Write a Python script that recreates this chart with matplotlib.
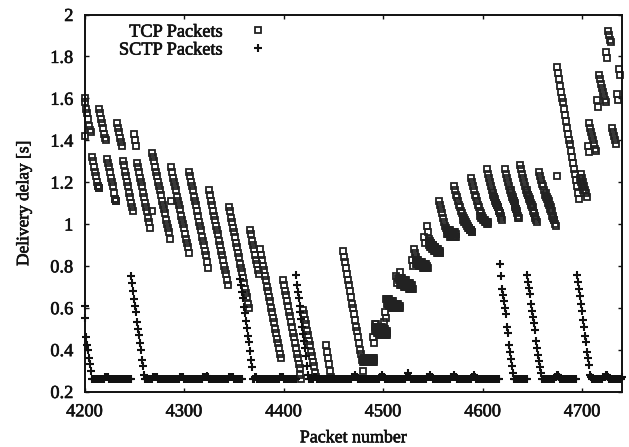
import numpy as np
import matplotlib
matplotlib.use('Agg')
import matplotlib.pyplot as plt
import matplotlib.patheffects as pe

plt.rcParams['font.family'] = ['Liberation Serif', 'DejaVu Serif']

# TCP packets: first packet number of each burst and its delays
tcp_start = [4200, 4200, 4208, 4215, 4223, 4233, 4239, 4250, 4253, 4268, 4268, 4287, 4287,
             4305, 4325, 4345, 4366, 4376, 4399, 4420, 4443, 4460, 4480, 4490, 4492, 4501,
             4503, 4513, 4529, 4541, 4544, 4556, 4571, 4588, 4604, 4622, 4638, 4657, 4675,
             4675, 4699, 4707, 4706, 4715, 4717, 4724, 4726, 4730, 4735, 4737]
tcp_delay = [
    [1.42],
    [1.60, 1.58, 1.55, 1.53, 1.50, 1.47, 1.45, 1.44],
    [1.32, 1.30, 1.27, 1.25, 1.23, 1.20, 1.18, 1.17],
    [1.55, 1.53, 1.50, 1.48, 1.46, 1.43, 1.41, 1.40],
    [1.31, 1.29, 1.27, 1.25, 1.22, 1.20, 1.18, 1.15, 1.12, 1.11],
    [1.48, 1.46, 1.44, 1.41, 1.39, 1.37],
    [1.30, 1.28, 1.25, 1.23, 1.20, 1.18, 1.15, 1.13, 1.10, 1.08, 1.06],
    [1.43, 1.40, 1.37],
    [1.29, 1.27, 1.25, 1.22, 1.20, 1.18, 1.15, 1.13, 1.10, 1.08, 1.06, 1.03, 1.01, 0.98],
    [1.06],
    [1.34, 1.32, 1.30, 1.27, 1.25, 1.23, 1.20, 1.18, 1.16, 1.14, 1.11, 1.09, 1.07, 1.05, 1.02, 1.00, 0.98, 0.96, 0.93],
    [1.11],
    [1.27, 1.25, 1.22, 1.20, 1.18, 1.16, 1.13, 1.11, 1.09, 1.07, 1.04, 1.02, 1.00, 0.98, 0.95, 0.93, 0.91, 0.89, 0.86],
    [1.25, 1.23, 1.20, 1.18, 1.16, 1.13, 1.11, 1.09, 1.06, 1.04, 1.01, 0.99, 0.97, 0.94, 0.92, 0.90, 0.87, 0.85, 0.82, 0.79],
    [1.16, 1.14, 1.11, 1.09, 1.06, 1.04, 1.02, 0.99, 0.97, 0.95, 0.92, 0.90, 0.87, 0.85, 0.83, 0.80, 0.78, 0.76, 0.73, 0.71],
    [1.08, 1.06, 1.03, 1.01, 0.98, 0.96, 0.94, 0.91, 0.89, 0.86, 0.84, 0.81, 0.79, 0.77, 0.74, 0.72, 0.69, 0.67, 0.65, 0.62, 0.60],
    [0.97, 0.95, 0.92, 0.90, 0.88, 0.85, 0.83, 0.81, 0.78, 0.76],
    [0.88, 0.85, 0.83, 0.80, 0.78, 0.75, 0.73, 0.70, 0.68, 0.65, 0.63, 0.60, 0.58, 0.55, 0.53, 0.50, 0.48, 0.45, 0.43, 0.41, 0.38, 0.36],
    [0.73, 0.71, 0.68, 0.66, 0.63, 0.61, 0.58, 0.56, 0.53, 0.51, 0.48, 0.46, 0.43, 0.41, 0.38, 0.36, 0.33, 0.31, 0.28, 0.26],
    [0.59, 0.57, 0.54, 0.52, 0.49, 0.47, 0.44, 0.42, 0.39, 0.37, 0.34, 0.32, 0.29, 0.27],
    [0.42, 0.39, 0.36, 0.33, 0.30, 0.27],
    [0.87, 0.84, 0.82, 0.79, 0.76, 0.73, 0.71, 0.68, 0.65, 0.62, 0.60, 0.57, 0.54, 0.51, 0.49, 0.46, 0.43, 0.40, 0.38, 0.35, 0.30],
    [0.35, 0.35, 0.35, 0.35, 0.35, 0.34, 0.35, 0.35, 0.35, 0.35, 0.35, 0.35],
    [0.46, 0.43],
    [0.51, 0.51, 0.50, 0.50, 0.49, 0.49, 0.50, 0.50, 0.49, 0.48, 0.48, 0.48, 0.48],
    [0.53, 0.58, 0.55],
    [0.64, 0.64, 0.63, 0.63, 0.62, 0.62, 0.62, 0.62, 0.61, 0.61, 0.61, 0.60, 0.60, 0.60],
    [0.75, 0.72, 0.74, 0.73, 0.77, 0.73, 0.72, 0.72, 0.71, 0.71, 0.71, 0.70, 0.70, 0.70, 0.70, 0.70, 0.69, 0.69],
    [0.83, 0.80, 0.88, 0.86, 0.84, 0.83, 0.82, 0.82, 0.81, 0.81, 0.80, 0.80, 0.80, 0.79, 0.79, 0.79, 0.79],
    [0.94, 0.91],
    [0.99, 0.96, 0.93, 0.92, 0.91, 0.90, 0.90, 0.89, 0.89, 0.88, 0.88, 0.87, 0.87, 0.86],
    [1.11, 1.09, 1.07, 1.05, 1.03, 1.01, 0.99, 0.98, 0.97, 0.96, 0.96, 0.95, 0.95, 0.95, 0.95, 0.94, 0.94],
    [1.18, 1.16, 1.14, 1.13, 1.11, 1.09, 1.08, 1.06, 1.05, 1.04, 1.03, 1.02, 1.01, 1.00, 0.99, 0.98, 0.97, 0.97, 0.96],
    [1.22, 1.20, 1.18, 1.16, 1.14, 1.13, 1.11, 1.09, 1.08, 1.06, 1.05, 1.04, 1.03, 1.02, 1.01, 1.01, 1.00, 1.00],
    [1.26, 1.24, 1.22, 1.20, 1.18, 1.16, 1.14, 1.13, 1.11, 1.10, 1.09, 1.08, 1.06, 1.05, 1.04, 1.02],
    [1.26, 1.24, 1.22, 1.20, 1.18, 1.16, 1.15, 1.13, 1.12, 1.11, 1.09, 1.08, 1.07, 1.06, 1.04, 1.03],
    [1.28, 1.26, 1.24, 1.22, 1.20, 1.18, 1.16, 1.15, 1.14, 1.12, 1.11, 1.09, 1.08, 1.06, 1.05, 1.03, 1.02, 1.01],
    [1.25, 1.23, 1.21, 1.19, 1.18, 1.16, 1.14, 1.13, 1.12, 1.10, 1.09, 1.07, 1.06, 1.04, 1.03, 1.02, 1.00, 0.99],
    [1.23],
    [1.75, 1.72, 1.69, 1.66, 1.63, 1.60, 1.58, 1.55, 1.52, 1.49, 1.46, 1.43, 1.40, 1.38, 1.35, 1.32, 1.29, 1.26, 1.24, 1.21, 1.18, 1.15, 1.12],
    [1.24, 1.22, 1.20, 1.18, 1.16, 1.15, 1.13],
    [1.48, 1.46, 1.44, 1.42, 1.40, 1.38, 1.36, 1.35],
    [1.37, 1.345],
    [1.59, 1.56],
    [1.71, 1.69, 1.67, 1.65, 1.63, 1.61, 1.59, 1.58],
    [1.82, 1.79],
    [1.92, 1.90, 1.88, 1.87],
    [1.46, 1.44, 1.42, 1.40, 1.38],
    [1.62, 1.59],
    [1.74, 1.71],
]

# TCP packets that pile up in the dark clumps
clump_start = [4214, 4231, 4480, 4480, 4492, 4492, 4504, 4504, 4517, 4517, 4533, 4533, 4546, 4546,
               4564, 4564, 4580, 4597, 4610, 4628, 4645, 4664, 4698]
clump_delay = [
    [1.18, 1.17],
    [1.12, 1.11],
    [0.36, 0.36, 0.36, 0.36, 0.36, 0.36, 0.36, 0.36, 0.36, 0.36, 0.36, 0.36],
    [0.34, 0.34, 0.34, 0.34, 0.34, 0.34, 0.34, 0.34, 0.34, 0.34, 0.34, 0.34],
    [0.52, 0.52, 0.51, 0.51, 0.51, 0.50, 0.51, 0.51, 0.50, 0.50, 0.50, 0.49, 0.49],
    [0.49, 0.49, 0.48, 0.48, 0.48, 0.47, 0.47, 0.47, 0.47, 0.47, 0.47, 0.47, 0.47],
    [0.64, 0.64, 0.64, 0.63, 0.63, 0.63, 0.63, 0.62, 0.62, 0.62, 0.62, 0.62, 0.61, 0.61],
    [0.62, 0.62, 0.61, 0.61, 0.61, 0.60, 0.60, 0.60, 0.60, 0.60, 0.60, 0.60, 0.60, 0.60],
    [0.74, 0.74, 0.74, 0.73, 0.73, 0.73, 0.73, 0.72, 0.72, 0.72, 0.72, 0.71, 0.71],
    [0.71, 0.71, 0.71, 0.71, 0.70, 0.70, 0.70, 0.70, 0.70, 0.69, 0.69, 0.69, 0.69],
    [0.83, 0.83, 0.83, 0.82, 0.82, 0.82, 0.82, 0.81, 0.81, 0.81, 0.81, 0.80],
    [0.81, 0.81, 0.81, 0.80, 0.80, 0.80, 0.80, 0.79, 0.79, 0.79, 0.79, 0.79],
    [0.92, 0.91, 0.91, 0.90, 0.90, 0.89, 0.89, 0.88, 0.88, 0.88, 0.87, 0.87],
    [0.90, 0.89, 0.89, 0.88, 0.88, 0.87, 0.87, 0.87, 0.86, 0.86, 0.86, 0.86],
    [0.97, 0.97, 0.97, 0.97, 0.96, 0.96, 0.96, 0.96, 0.96, 0.95],
    [0.95, 0.95, 0.95, 0.94, 0.94, 0.94, 0.94, 0.94, 0.94, 0.94],
    [1.02, 1.01, 1.01, 1.00, 0.99, 0.98, 0.98, 0.97, 0.97, 0.96],
    [1.04, 1.03, 1.03, 1.02, 1.02, 1.02, 1.01, 1.01, 1.01],
    [1.15, 1.13, 1.12, 1.10, 1.09, 1.08, 1.06, 1.05, 1.03],
    [1.16, 1.14, 1.13, 1.11, 1.10, 1.09, 1.07, 1.05, 1.03],
    [1.16, 1.14, 1.13, 1.12, 1.10, 1.09, 1.08, 1.05, 1.04],
    [1.15, 1.13, 1.12, 1.11, 1.09, 1.08, 1.06, 1.04, 1.02],
    [1.22, 1.20, 1.18, 1.16],
]

# SCTP packets: retransmission ramps and the flat runs between them
sctp_start = [4200, 4208, 4247, 4261, 4356, 4369, 4412, 4426, 4617, 4631, 4645, 4660, 4695, 4708]
sctp_delay = [
    [.61, .55, .46, .42, .40, .36, .33, .30],
    [.26, .26, .26, .26, .26, .26, .26, .26, .26, .26, .26, .26, .26, .27, .27, .27, .27, .26, .26, .26,
     .26, .26, .26, .26, .26, .26, .26, .26, .26, .26, .26, .26, .26, .26, .26, .26, .26, .26, .26, .26],
    [.75, .72, .68, .64, .61, .58, .53, .50, .47, .43, .40, .35, .32, .28],
    [.26, .26, .26, .26, .26, .26, .26, .26, .27, .27, .27, .27, .27, .26, .26, .26, .26, .26, .26, .26,
     .26, .26, .26, .26, .26, .26, .26, .26, .26, .26, .26, .26, .26, .26, .26, .27, .27, .27, .27, .26,
     .26, .26, .26, .26, .26, .26, .26, .26, .26, .26, .26, .26, .26, .26, .26, .26, .26, .26, .27, .27,
     .27, .27, .275, .27, .26, .26, .26, .26, .26, .26, .26, .26, .26, .26, .26, .26, .26, .26, .26, .26,
     .26, .26, .26, .26, .27, .27, .27, .27, .27, .26, .26, .26, .26, .26, .26, .26, .26, .26],
    [.736, .709, .677, .646, .603, .574, .537, .505, .467, .434, .394, .351, .316],
    [.26, .26, .27, .27, .26, .26, .26, .26, .26, .26, .26, .26, .26, .26, .26, .26, .26, .26, .26, .26,
     .26, .26, .26, .26, .26, .26, .26, .27, .27, .27, .27, .26, .26, .26, .26, .26, .26, .26, .26, .26,
     .26, .26, .26, .26],
    [.755, .71, .675, .647, .61, .58, .547, .51, .475, .44, .41, .37, .32, .28],
    [.26, .26, .26, .26, .26, .27, .27, .27, .26, .26, .26, .26, .26, .26, .26, .26, .26, .26, .26, .26,
     .26, .26, .26, .26, .26, .26, .26, .26, .26, .26, .26, .26, .26, .26, .26, .26, .26, .26, .26, .26,
     .26, .26, .26, .27, .27, .27, .28, .27, .27, .26, .26, .26, .26, .26, .26, .26, .26, .26, .26, .26,
     .26, .26, .26, .26, .26, .26, .26, .26, .26, .26, .26, .27, .27, .28, .27, .27, .26, .26, .26, .26,
     .26, .26, .26, .26, .26, .26, .26, .26, .26, .26, .26, .26, .26, .26, .26, .26, .26, .27, .27, .29,
     .27, .27, .26, .26, .26, .26, .26, .26, .26, .26, .26, .26, .26, .26, .26, .26, .26, .26, .27, .27,
     .27, .28, .27, .27, .26, .26, .26, .26, .26, .26, .26, .26, .26, .26, .26, .26, .26, .26, .26, .26,
     .26, .26, .27, .27, .27, .28, .27, .27, .26, .26, .26, .26, .26, .26, .26, .26, .26, .26, .26, .26,
     .26, .26, .26, .27, .27, .28, .27, .26, .26, .26, .26, .26, .26, .26, .26, .26, .26, .26, .26, .26,
     .26, .26, .26, .26, .26, .26, .26, .26, .26, .26, .26],
    [.81, .75, .69, .66, .63, .60, .57, .51, .48, .42, .39, .355, .32, .29],
    [.26, .26, .26, .26, .26, .26, .26, .26, .26, .26, .26, .26, .26, .26, .26],
    [.757, .725, .696, .666, .618, .586, .558, .527, .494, .439, .408, .375, .346, .318, .29],
    [.26, .26, .26, .26, .26, .26, .26, .26, .26, .26, .26, .26, .26, .27, .27, .28, .28, .27, .26, .26,
     .26, .26, .26, .26, .26, .26, .26, .26, .26, .26, .26, .26, .26, .26, .26],
    [.757, .725, .69, .657, .618, .586, .539, .507, .466, .436, .388, .359, .327],
    [.28, .27, .26, .26, .26, .26, .26, .26, .26, .26, .26, .26, .26, .27, .27, .27, .28, .28, .27, .26,
     .26, .26, .26, .26, .26, .26, .26, .26, .26, .26, .26, .26, .27],
]

x_ticks = [4200, 4300, 4400, 4500, 4600, 4700]
y_ticks = [0.2, 0.4, 0.6, 0.8, 1.0, 1.2, 1.4, 1.6, 1.8, 2.0]
y_tick_labels = ['0.2', '0.4', '0.6', '0.8', '1', '1.2', '1.4', '1.6', '1.8', '2']

# 每段資料展開成 x, y
all_start = tcp_start + clump_start
all_delay = tcp_delay + clump_delay
tcp_x = np.concatenate([np.arange(s, s + len(d)) for s, d in zip(all_start, all_delay)])
tcp_y = np.concatenate(all_delay)
sctp_x = np.concatenate([np.arange(s, s + len(d)) for s, d in zip(sctp_start, sctp_delay)])
sctp_y = np.concatenate(sctp_delay)

W, H = 629, 447
fig = plt.figure(figsize=(W / 100, H / 100), dpi=100)
ax = fig.add_axes([84.5 / W, 1 - 391.5 / H, (622 - 84.5) / W, (391.5 - 14.5) / H])

ink = '#111111'
ax.plot(tcp_x, tcp_y, ls='none', marker='s', ms=4.2, mfc='none', mec='#222222', mew=1.3,
        clip_on=False, label='TCP Packets')
ax.plot(sctp_x, sctp_y, ls='none', marker='+', ms=5.4, mec=ink, mew=1.5,
        clip_on=False, label='SCTP Packets')

ax.set_xlim(4200, 4740)
ax.set_ylim(0.2, 2)
ax.set_xticks(x_ticks)
ax.set_yticks(y_ticks)
ax.set_yticklabels(y_tick_labels)
ax.tick_params(direction='in', length=3.2, width=1.0, top=True, right=True, labelsize=13.2,
               colors=ink)
ax.tick_params(axis='x', pad=8.5)
ax.tick_params(axis='y', pad=8)
for spine in ax.spines.values():
    spine.set_linewidth(1.4)
    spine.set_color(ink)

ax.set_xlabel('Packet number', fontsize=12.9, color=ink, labelpad=6.5)
ax.set_ylabel('Delivery delay [s]', fontsize=12.5, color=ink, labelpad=13)

leg = ax.legend(loc='upper left', bbox_to_anchor=(0.047, 1.0), frameon=False, markerfirst=False,
                numpoints=1, fontsize=13.2, labelspacing=0.05, handletextpad=0.9, handlelength=2.0,
                labelcolor=ink, borderaxespad=0.1)

# 掃描稿的字比較粗，用細描邊模擬
bold = [pe.withStroke(linewidth=0.45, foreground=ink)]
texts = ax.get_xticklabels() + ax.get_yticklabels() + leg.get_texts() + [ax.xaxis.label, ax.yaxis.label]
for t in texts:
    t.set_path_effects(bold)

fig.savefig('out.png', dpi=100)
